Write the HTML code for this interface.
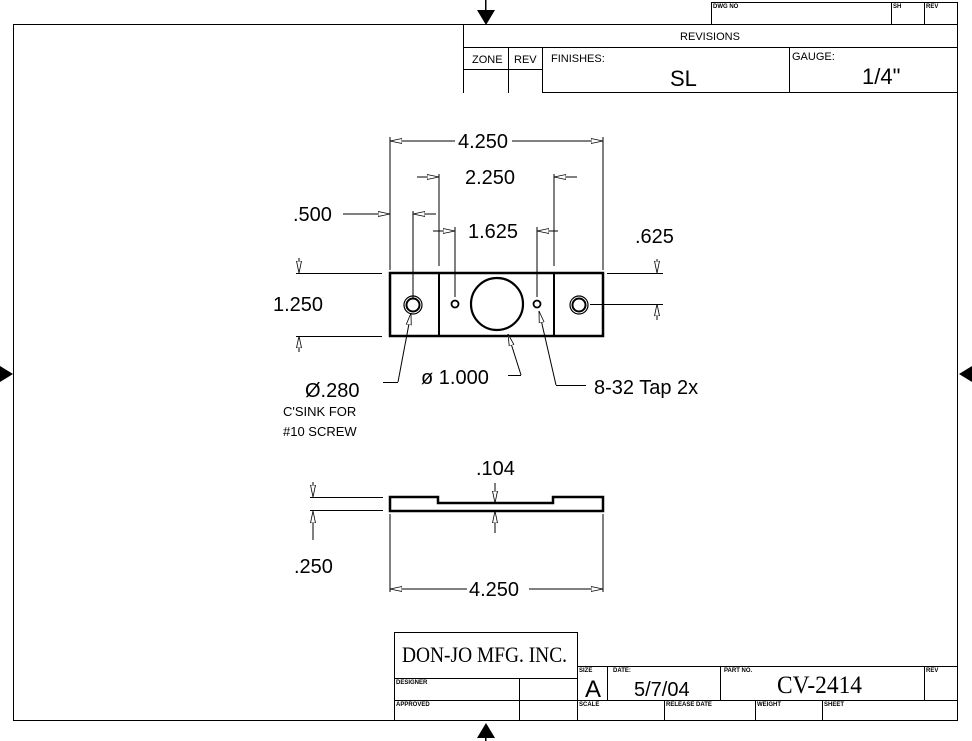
<!DOCTYPE html>
<html><head><meta charset="utf-8"><style>
html,body{margin:0;padding:0;background:#fff}
svg{display:block}
text{font-family:"Liberation Sans",sans-serif;fill:#000}
</style></head><body>
<svg width="972" height="741" viewBox="0 0 972 741" xmlns="http://www.w3.org/2000/svg">
<defs>
<marker id="a" viewBox="0 0 12 6" refX="12" refY="3" markerWidth="12" markerHeight="6" markerUnits="userSpaceOnUse" orient="auto"><path d="M0,0.5 L12,3 L0,5.5 Z" fill="#fff" stroke="#000" stroke-width="0.8"/></marker>
</defs>
<g stroke="#000" fill="none" stroke-width="1">
<rect x="13.5" y="24.5" width="944" height="696"/>
<path d="M711.5,24 V2.5 H957.5 V24 M891.5,2.5 V24 M924.5,2.5 V24"/>
<path d="M463.5,24 V93 M463.5,47.5 H957.5 M463.5,69.5 H542 M508.5,47 V93 M542.5,47 V92.5 H957.5 M789.5,47 V92.5"/>
<!-- title block -->
<path d="M394.5,721 V632.5 H577.5 V721 M394.5,678.5 H577 M394.5,700.5 H957.5 M519.5,678 V721 M577.5,666.5 H957.5 M607.5,666 V700 M720.5,666 V700 M924.5,666 V700 M664.5,700 V721 M755.5,700 V721 M822.5,700 V721"/>
</g>
<g fill="#000">
<path d="M0,366 L13,374 L0,382 Z"/>
<path d="M972,366 L959,374 L972,382 Z"/>
<path d="M477,10 L495,10 L486,25 Z"/>
<rect x="485" y="0" width="1.5" height="10"/>
<path d="M477,738 L495,738 L486,723 Z"/>
<rect x="485" y="737" width="1.5" height="4"/>
</g>
<g font-size="6" font-weight="bold">
<text x="713" y="8">DWG NO</text><text x="893" y="8">SH</text><text x="926" y="8">REV</text>
<text x="396" y="684">DESIGNER</text><text x="396" y="706">APPROVED</text>
<text x="579" y="672">SIZE</text><text x="613" y="672">DATE:</text><text x="724" y="672">PART NO.</text><text x="926" y="672">REV</text>
<text x="579" y="706">SCALE</text><text x="666" y="706">RELEASE DATE</text><text x="757" y="706">WEIGHT</text><text x="824" y="706">SHEET</text>
</g>
<g font-size="11">
<text x="710" y="40" text-anchor="middle">REVISIONS</text>
<text x="472" y="63">ZONE</text><text x="514" y="63">REV</text>
<text x="551" y="62">FINISHES:</text><text x="792" y="60">GAUGE:</text>
</g>
<text x="670" y="86" font-size="22">SL</text>
<text x="862" y="84" font-size="22">1/4"</text>
<text x="402" y="662" font-size="22" style="font-family:'Liberation Serif',serif" textLength="165" lengthAdjust="spacingAndGlyphs">DON-JO MFG. INC.</text>
<text x="585" y="697" font-size="24">A</text>
<text x="634" y="696" font-size="20">5/7/04</text>
<text x="777" y="693" font-size="25" style="font-family:'Liberation Serif',serif" textLength="85" lengthAdjust="spacingAndGlyphs">CV-2414</text>
<g stroke="#000" fill="none">
<rect x="390" y="273" width="213" height="63" stroke-width="2.5"/>
<path d="M439,273 V336 M554,273 V336" stroke-width="2"/>
<circle cx="413" cy="305" r="9" stroke-width="1.2"/><circle cx="413" cy="305" r="6.5" stroke-width="2"/>
<circle cx="579" cy="305" r="9" stroke-width="1.2"/><circle cx="579" cy="305" r="6.5" stroke-width="2"/>
<circle cx="455" cy="304" r="3.5" stroke-width="1.8"/><circle cx="537" cy="304" r="3.5" stroke-width="1.8"/>
<circle cx="497" cy="304" r="26" stroke-width="2.2"/>
</g>
<g stroke="#000" fill="none" stroke-width="1">
<path d="M390,137 V270 M603,137 V270 M439,174 V266 M554,174 V266 M413,211 V298 M455,227 V297 M537,227 V297"/>
<path d="M296,273.5 H382 M296,336.5 H382 M607,273.5 H663 M590,304.5 H663"/>
<path d="M455,141 H390" marker-end="url(#a)"/><path d="M512,141 H603" marker-end="url(#a)"/>
<path d="M417,177 H439" marker-end="url(#a)"/><path d="M577,177 H554" marker-end="url(#a)"/>
<path d="M343,214 H390" marker-end="url(#a)"/><path d="M436,214 H413" marker-end="url(#a)"/>
<path d="M433,231 H455" marker-end="url(#a)"/><path d="M558,231 H537" marker-end="url(#a)"/>
<path d="M299,258 V273" marker-end="url(#a)"/><path d="M299,352 V336" marker-end="url(#a)"/>
<path d="M657,259 V273" marker-end="url(#a)"/><path d="M657,320 V304" marker-end="url(#a)"/>
<path d="M398,382 L411,313" marker-end="url(#a)"/><path d="M383,382.5 H398"/>
<path d="M521,375 L508,334" marker-end="url(#a)"/><path d="M508,375.5 H521"/>
<path d="M556,385 L539,311" marker-end="url(#a)"/><path d="M556,385.5 H586"/>
<path d="M390,497 H438 V503 H553 V497 H603 V511 H390 Z" stroke-width="2.5"/>
<path d="M310,497.5 H383 M310,510.5 H383 M390,514 V592 M603,514 V592"/>
<path d="M313,482 V497" marker-end="url(#a)"/><path d="M313,540 V511" marker-end="url(#a)"/>
<path d="M495,483 V503" marker-end="url(#a)"/><path d="M495,533 V511" marker-end="url(#a)"/>
<path d="M467,589 H390" marker-end="url(#a)"/><path d="M529,589 H603" marker-end="url(#a)"/>
</g>
<g font-size="20">
<text x="483" y="148" text-anchor="middle">4.250</text>
<text x="490" y="184" text-anchor="middle">2.250</text>
<text x="293" y="221">.500</text>
<text x="468" y="238">1.625</text>
<text x="635" y="243">.625</text>
<text x="273" y="311">1.250</text>
<text x="305" y="397">Ø.280</text>
<text x="421" y="384">ø 1.000</text>
<text x="594" y="394">8-32 Tap 2x</text>
<text x="476" y="475">.104</text>
<text x="294" y="573">.250</text>
<text x="469" y="596">4.250</text>
</g>
<g font-size="13">
<text x="283" y="416">C'SINK FOR</text>
<text x="283" y="436">#10 SCREW</text>
</g>
</svg>
</body></html>
